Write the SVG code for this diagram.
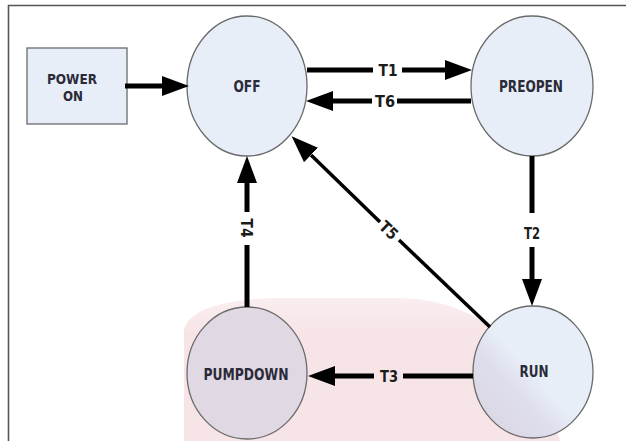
<svg xmlns="http://www.w3.org/2000/svg" width="626" height="441" viewBox="0 0 626 441">
  <style>
    .node { fill: #e8eef8; stroke: #6a6a6a; stroke-width: 1.3; }
    .lbl { font-family: "DejaVu Sans Condensed", "Liberation Sans Narrow", "Liberation Sans", sans-serif; font-stretch: condensed; font-weight: bold; font-size: 16px; fill: #2a2a38; text-anchor: middle; }
    .small { font-size: 14px; }
    .elbl { font-family: "DejaVu Sans Condensed", "Liberation Sans Narrow", "Liberation Sans", sans-serif; font-stretch: condensed; font-weight: bold; font-size: 16px; fill: #1c1c1c; text-anchor: middle; }
    .edge { fill: none; stroke: #000; stroke-width: 5; }
    .thin { stroke-width: 3.5; }
  </style>
  <defs>
    <marker id="ah" viewBox="0 0 27 20" refX="0" refY="10" markerWidth="27" markerHeight="20" markerUnits="userSpaceOnUse" orient="auto">
      <path d="M0,0 L27,10 L0,20 Z" fill="#000"/>
    </marker>
    <linearGradient id="runShade" x1="0" y1="1" x2="1" y2="0">
      <stop offset="0" stop-color="#dad4e2"/>
      <stop offset="0.35" stop-color="#dedeec"/>
      <stop offset="0.5" stop-color="#e8eef8"/>
      <stop offset="1" stop-color="#e8eef8"/>
    </linearGradient>
    <linearGradient id="wm" x1="0" y1="0" x2="0" y2="1">
      <stop offset="0" stop-color="#faeef0"/>
      <stop offset="0.25" stop-color="#f7e4e6"/>
      <stop offset="1" stop-color="#f7e4e6"/>
    </linearGradient>
  </defs>
  <rect x="0" y="0" width="626" height="441" fill="#fff"/>
  <path d="M184,441 L184,330 Q190,302 270,298 L400,298 Q520,300 560,441 Z" fill="url(#wm)"/>
  <path d="M8.5,441 L8.5,5.5 L626,5.5" fill="none" stroke="#555" stroke-width="1.6"/>

  <g id="power-on">
    <rect class="node" x="27" y="48" width="100" height="76"/>
    <text class="lbl small" x="72" y="84" textLength="50" lengthAdjust="spacingAndGlyphs">POWER</text>
    <text class="lbl small" x="73" y="101" textLength="20" lengthAdjust="spacingAndGlyphs">ON</text>
  </g>
  <g id="off">
    <ellipse class="node" cx="247" cy="86" rx="60" ry="70"/>
    <text class="lbl" x="247" y="92" textLength="27" lengthAdjust="spacingAndGlyphs">OFF</text>
  </g>
  <g id="preopen">
    <ellipse class="node" cx="532" cy="86" rx="61" ry="70"/>
    <text class="lbl" x="531" y="92" textLength="64" lengthAdjust="spacingAndGlyphs">PREOPEN</text>
  </g>
  <g id="run">
    <ellipse class="node" cx="533" cy="372" rx="60" ry="66" style="fill:url(#runShade)"/>
    <text class="lbl" x="534" y="377" textLength="29" lengthAdjust="spacingAndGlyphs">RUN</text>
  </g>
  <g id="pumpdown">
    <ellipse class="node" cx="247" cy="373" rx="60" ry="66" style="fill:#e0d9e3"/>
    <text class="lbl" x="246" y="380" textLength="85" lengthAdjust="spacingAndGlyphs">PUMPDOWN</text>
  </g>

  <g id="connectors">
    <path class="edge" d="M125,86 L162,86" marker-end="url(#ah)"/>
    <path class="edge" d="M307,70 L373,70"/>
    <path class="edge" d="M402,70 L445,70" marker-end="url(#ah)"/>
    <text class="elbl" x="388" y="76" textLength="19" lengthAdjust="spacingAndGlyphs">T1</text>
    <path class="edge" d="M471,101 L397,101"/>
    <path class="edge" d="M372,101 L333,101" marker-end="url(#ah)"/>
    <text class="elbl" x="385" y="107" textLength="20" lengthAdjust="spacingAndGlyphs">T6</text>
    <path class="edge" d="M532,156 L532,213"/>
    <path class="edge" d="M532,247 L532,279" marker-end="url(#ah)"/>
    <text class="elbl" x="532" y="239" textLength="16" lengthAdjust="spacingAndGlyphs">T2</text>
    <path class="edge" d="M473,376 L403,376"/>
    <path class="edge" d="M374,376 L335,376" marker-end="url(#ah)"/>
    <text class="elbl" x="389" y="382" textLength="18" lengthAdjust="spacingAndGlyphs">T3</text>
    <path class="edge" d="M247,307 L247,245"/>
    <path class="edge" d="M247,212 L247,183" marker-end="url(#ah)"/>
    <text class="elbl" transform="translate(247,228) rotate(90)" x="0" y="6" textLength="19" lengthAdjust="spacingAndGlyphs">T4</text>
    <path class="edge thin" d="M490,327 L399,240"/>
    <path class="edge thin" d="M380,222 L311,155" marker-end="url(#ah)"/>
    <text class="elbl" transform="translate(389,230) rotate(43.8)" x="0" y="6" textLength="19" lengthAdjust="spacingAndGlyphs">T5</text>
  </g>
</svg>
